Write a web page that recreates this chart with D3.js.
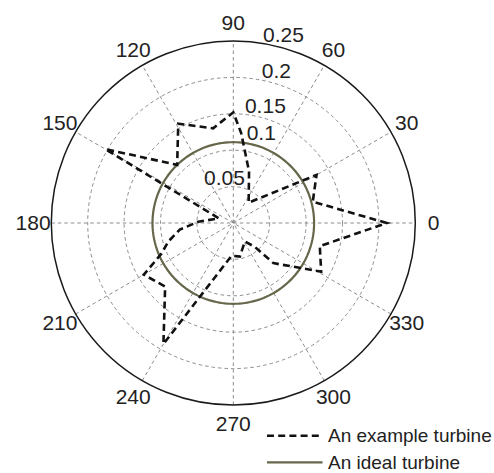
<!DOCTYPE html>
<html>
<head>
<meta charset="utf-8">
<script src="https://cdn.jsdelivr.net/npm/d3@7"></script>
<style>
  html, body { margin: 0; padding: 0; background: #fff; }
  svg { display: block; }
  text { font-family: "Liberation Sans", Arial, sans-serif; fill: #222; }
</style>
</head>
<body>
<svg id="chart" width="494" height="473"></svg>
<script>
// Power-coefficient distribution by wind direction (degrees, counter-clockwise from east)
const exampleAngles = [0, 15, 30, 53, 73, 85, 90, 102, 119, 134, 150, 162, 178, 187, 196, 203, 210, 223, 240, 267, 281, 302, 312, 315, 331, 345];
const exampleValues = [0.211, 0.113, 0.132, 0.035, 0.074, 0.124, 0.152, 0.133, 0.156, 0.111, 0.203, 0.021, 0.048, 0.074, 0.093, 0.107, 0.142, 0.128, 0.192, 0.045, 0.047, 0.030, 0.044, 0.078, 0.138, 0.123];

// An ideal turbine responds equally in every direction
const idealValue = 0.111;

// Axis ticks
const radialTicks = [0.05, 0.1, 0.15, 0.2, 0.25];
const angleTicks = [0, 30, 60, 90, 120, 150, 180, 210, 240, 270, 300, 330];
const rMax = 0.25;

// Label nudges for the radial tick text [dx, dy] in pixels
const radialLabelNudge = [[-34.6, 0], [3, -9.1], [-3.8, -0.4], [7.9, 1], [4.1, 0.7]];

const legendItems = ["An example turbine", "An ideal turbine"];

const svg = d3.select("#chart");
const cx = 233.3, cy = 223, R = 182;

const r = d3.scaleLinear().domain([0, rMax]).range([0, R]);
const rad = deg => deg * Math.PI / 180;
const px = (v, deg) => cx + r(v) * Math.cos(rad(deg));
const py = (v, deg) => cy - r(v) * Math.sin(rad(deg));

const g = svg.append("g");

// Dashed spokes across the full diameter, every 30 degrees
g.selectAll("line.spoke")
  .data(angleTicks.filter(a => a < 180))
  .join("line")
  .attr("class", "spoke")
  .attr("x1", a => px(rMax, a + 180)).attr("y1", a => py(rMax, a + 180))
  .attr("x2", a => px(rMax, a)).attr("y2", a => py(rMax, a))
  .attr("stroke", "#8c8c8c").attr("stroke-width", 1)
  .attr("stroke-dasharray", "3.5,3");

// Dashed range rings
g.selectAll("circle.ring")
  .data(radialTicks.filter(v => v < rMax))
  .join("circle")
  .attr("class", "ring")
  .attr("cx", cx).attr("cy", cy).attr("r", v => r(v))
  .attr("fill", "none").attr("stroke", "#8c8c8c").attr("stroke-width", 1)
  .attr("stroke-dasharray", "3.5,3");

// Solid outer boundary
g.append("circle")
  .attr("cx", cx).attr("cy", cy).attr("r", r(rMax))
  .attr("fill", "none").attr("stroke", "#1a1a1a").attr("stroke-width", 1.5);

// Angle labels
g.selectAll("text.ang")
  .data(angleTicks)
  .join("text")
  .attr("class", "ang")
  .attr("x", a => cx + 1.1 * R * Math.cos(rad(a)))
  .attr("y", a => cy - 1.1 * R * Math.sin(rad(a)))
  .attr("dy", "0.35em")
  .attr("text-anchor", "middle")
  .attr("font-size", 21)
  .text(a => a);

// Radial labels along the 82 degree line
g.selectAll("text.rlab")
  .data(radialTicks)
  .join("text")
  .attr("class", "rlab")
  .attr("x", (v, i) => px(v + 0.0025, 82) + radialLabelNudge[i][0])
  .attr("y", (v, i) => py(v + 0.0025, 82) + radialLabelNudge[i][1])
  .attr("text-anchor", "start")
  .attr("font-size", 21)
  .text(v => String(v));

// Ideal turbine: a circle of constant value
const fullTurn = d3.range(0, 361, 2);
const radialLine = d3.lineRadial()
  .angle(d => Math.PI / 2 - rad(d[0]))
  .radius(d => r(d[1]));

g.append("path")
  .datum(fullTurn.map(a => [a, idealValue]))
  .attr("transform", `translate(${cx},${cy})`)
  .attr("d", radialLine.curve(d3.curveLinear))
  .attr("fill", "none").attr("stroke", "#66664a").attr("stroke-width", 2.2);

// Example turbine: closed dashed polygon
g.append("path")
  .datum(exampleAngles.map((a, i) => [a, exampleValues[i]]))
  .attr("transform", `translate(${cx},${cy})`)
  .attr("d", d3.lineRadial()
    .angle(d => Math.PI / 2 - rad(d[0]))
    .radius(d => r(d[1]))
    .curve(d3.curveLinearClosed))
  .attr("fill", "none").attr("stroke", "#111").attr("stroke-width", 2.6)
  .attr("stroke-dasharray", "7,4.2");

// Legend
const legend = svg.append("g");
const legendY = [435.7, 462.3];
const legendStyles = [
  { stroke: "#111", width: 2.6, dash: "7,4.2" },
  { stroke: "#66664a", width: 2.2, dash: null }
];
legendItems.forEach((label, i) => {
  legend.append("line")
    .attr("x1", 267).attr("x2", 322.5)
    .attr("y1", legendY[i]).attr("y2", legendY[i])
    .attr("stroke", legendStyles[i].stroke)
    .attr("stroke-width", legendStyles[i].width)
    .attr("stroke-dasharray", legendStyles[i].dash);
  legend.append("text")
    .attr("x", 328).attr("y", legendY[i])
    .attr("dy", "0.35em")
    .attr("font-size", 19)
    .text(label);
});
</script>
</body>
</html>
